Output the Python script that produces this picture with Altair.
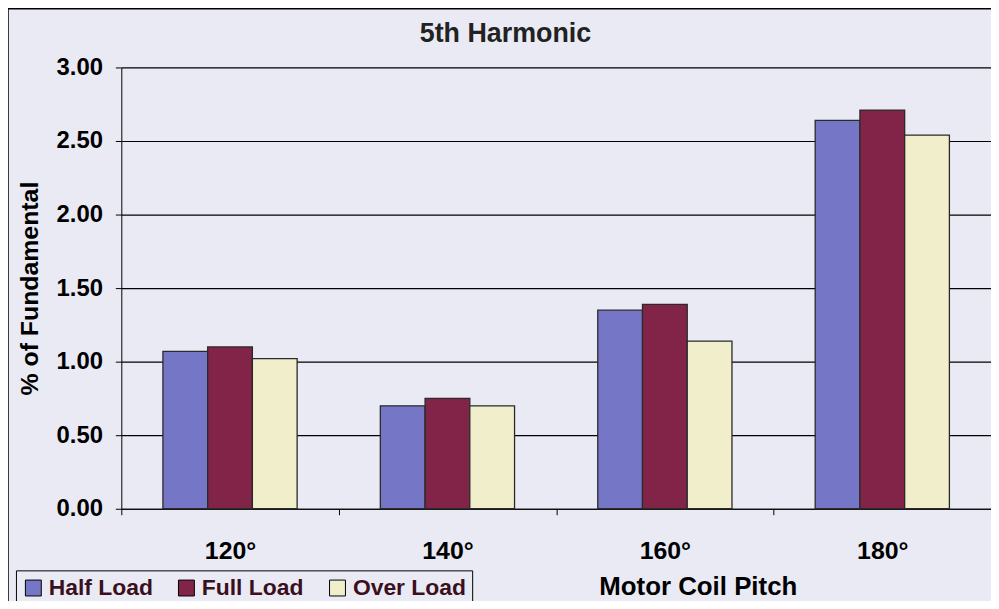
import altair as alt
import pandas as pd

pitches = ["120°", "140°", "160°", "180°"]
series = ["Half Load", "Full Load", "Over Load"]
half_load = [1.07, 0.70, 1.35, 2.64]
full_load = [1.10, 0.75, 1.39, 2.71]
over_load = [1.02, 0.70, 1.14, 2.54]
colors = ["#7676c6", "#822447", "#f0eecb"]

rows = []
for i, p in enumerate(pitches):
    for s, vals in zip(series, [half_load, full_load, over_load]):
        rows.append({"pitch": p, "load": s, "value": vals[i]})
df = pd.DataFrame(rows)

FONT = "Liberation Sans"
BG = "#eaeaf4"

bars = alt.Chart(df).mark_bar(stroke="#2a2a2a", strokeWidth=1.3).encode(
    x=alt.X("pitch:N", sort=pitches,
            scale=alt.Scale(paddingInner=0, paddingOuter=0),
            axis=alt.Axis(title="Motor Coil Pitch", labelAngle=0, tickBand="extent",
                          labelFontSize=25, labelFontWeight="bold", labelPadding=24,
                          tickSize=6, tickColor="black", domainColor="black",
                          titleFontSize=26, titleFontWeight="bold",
                          titleX=580, titleY=86, titleAlign="center",
                          titleBaseline="alphabetic", grid=False)),
    xOffset=alt.XOffset("load:N", sort=series,
                        scale=alt.Scale(paddingInner=0, paddingOuter=0.93)),
    y=alt.Y("value:Q",
            scale=alt.Scale(domain=[0, 3]),
            axis=alt.Axis(title="% of Fundamental", values=[0, 0.5, 1, 1.5, 2, 2.5, 3],
                          format=".2f", labelFontSize=24, labelFontWeight="bold",
                          labelPadding=13, tickSize=6, tickColor="black",
                          domainColor="black", gridColor="black", gridWidth=1.2,
                          titleFontSize=25, titleFontWeight="bold", titlePadding=14)),
    color=alt.Color("load:N", sort=series,
                    scale=alt.Scale(domain=series, range=colors),
                    legend=alt.Legend(title=None, orient="none", direction="horizontal",
                                      legendX=-106, legendY=506,
                                      symbolType="square", symbolSize=256,
                                      symbolStrokeColor="black", symbolStrokeWidth=1,
                                      labelFontSize=23, labelFontWeight="bold",
                                      labelColor="#3a1020", labelOffset=4,
                                      strokeColor="black", padding=6,
                                      columnPadding=22, symbolOpacity=1)),
)

frame = alt.Chart(pd.DataFrame({"a": [0]})).mark_rect(
    filled=False, stroke="black", strokeWidth=1.5
).encode(
    x=alt.value(-114), x2=alt.value(900), y=alt.value(-59), y2=alt.value(600)
)

chart = alt.layer(bars, frame).properties(
    width=875, height=444,
    title=alt.TitleParams("5th Harmonic", fontSize=27, fontWeight="bold",
                          anchor="middle", frame="group", offset=0, dx=-51, dy=40,
                          color="#222222"),
    autosize=alt.AutoSizeParams(type="none"),
    padding={"left": 114, "top": 58, "right": 0, "bottom": 91},
    background=BG,
).configure(font=FONT).configure_view(stroke=None, fill=BG).configure_axis(
    labelColor="black", titleColor="black"
)

chart.save("out.html", embed_options={"renderer": "svg", "actions": False})
